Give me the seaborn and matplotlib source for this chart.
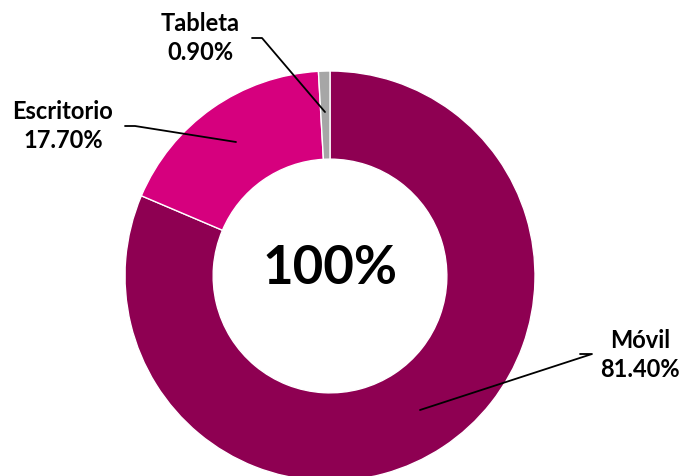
import matplotlib
matplotlib.use("Agg")
import matplotlib.pyplot as plt
import seaborn as sns

# datos del gráfico
dispositivos = ["Móvil", "Escritorio", "Tableta"]
porcentajes = [81.4, 17.7, 0.9]
colores = ["#8E0052", "#D6007E", "#A6A6A6"]
total_texto = "100%"

sns.set_theme(style="white")
plt.rcParams['font.family'] = ['Lato', 'DejaVu Sans']

fig = plt.figure(figsize=(6.83, 4.76), dpi=100)
ax = fig.add_axes([0, 0, 1, 1])

cx, cy, r = 330, 476 - 276, 205
wedges, _ = ax.pie(porcentajes, colors=colores, startangle=90, counterclock=False,
                   center=(cx, cy), radius=r, frame=True,
                   wedgeprops=dict(width=r * 0.43, edgecolor='white', linewidth=1))
ax.set_xlim(0, 683)
ax.set_ylim(0, 476)
ax.set_aspect('equal')
ax.axis('off')

ax.text(cx, 476 - 269, total_texto, ha='center', va='center',
        fontsize=38, fontweight='bold', color='black')

# etiquetas con líneas guía (coordenadas de imagen)
etiquetas = [
    (dispositivos[2], porcentajes[2], (200, 38), [(252, 38), (262, 38), (325, 112)]),
    (dispositivos[1], porcentajes[1], (63, 126), [(125, 126), (135, 126), (236, 142)]),
    (dispositivos[0], porcentajes[0], (640, 355), [(580, 354), (592, 354), (420, 410)]),
]
for nombre, valor, (tx, ty), puntos in etiquetas:
    ax.text(tx, 476 - ty, f"{nombre}\n{valor:.2f}%", ha='center', va='center',
            fontsize=17, fontweight='bold', color='black', linespacing=1.35)
    xs = [p[0] for p in puntos]
    ys = [476 - p[1] for p in puntos]
    ax.plot(xs, ys, color='black', linewidth=1.3)

fig.savefig('out.png', dpi=100)
